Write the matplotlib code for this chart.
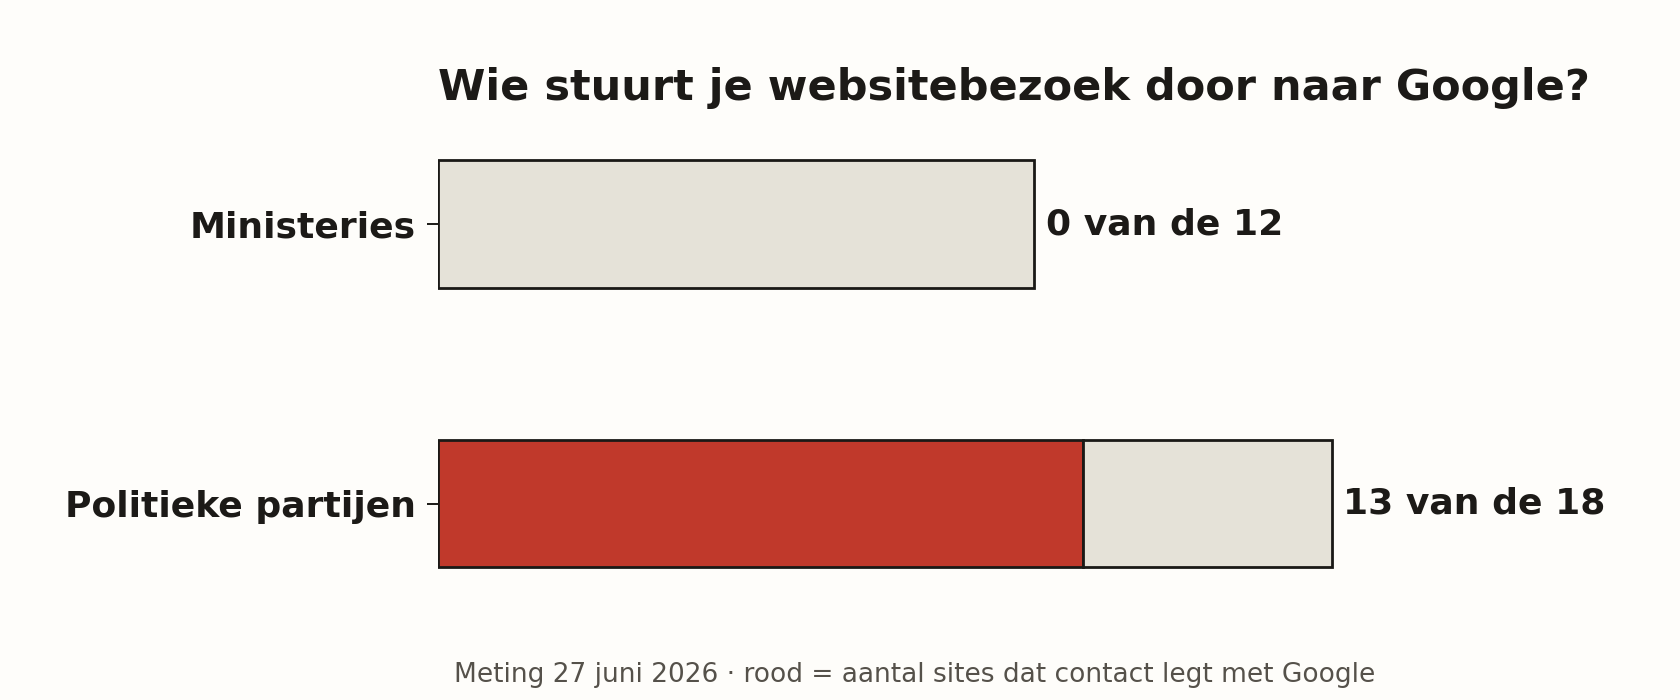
import matplotlib
matplotlib.use("Agg")
import matplotlib.pyplot as plt

categories = ["Ministeries", "Politieke partijen"]
google = [0, 13]
totals = [12, 18]
value_labels = ["0 van de 12", "13 van de 18"]
title = "Wie stuurt je websitebezoek door naar Google?"
footer = "Meting 27 juni 2026 · rood = aantal sites dat contact legt met Google"

BG = "#FEFDFA"
RED = "#C0392B"
GREY = "#E5E2D8"
EDGE = "#1A1916"
TEXT = "#1C1A17"
FOOT = "#55514A"

W, H = 1680, 700
fig = plt.figure(figsize=(W / 100, H / 100), dpi=100, facecolor=BG)
plt.rcParams['font.family'] = ['DejaVu Sans']

px_per_unit = 49.64
left_px = 438
xmax = 22.5
ax_w = xmax * px_per_unit
row_px = 279.5
ylo, yhi = -0.4, 1.4
ax_h = (yhi - ylo) * row_px
top_px = 224 - 0.4 * row_px
ax = fig.add_axes([left_px / W, (H - top_px - ax_h) / H, ax_w / W, ax_h / H])
ax.set_facecolor(BG)

ypos = list(range(len(categories)))
rest = [t - g for t, g in zip(totals, google)]
bar_h = 0.455
ax.barh(ypos, google, height=bar_h, color=RED, edgecolor=EDGE, linewidth=2.0)
ax.barh(ypos, rest, left=google, height=bar_h, color=GREY, edgecolor=EDGE, linewidth=2.0)

for y, t, lab in zip(ypos, totals, value_labels):
    ax.text(t + 0.24, y, lab, va="center", ha="left", fontsize=26,
            fontweight="bold", color=TEXT)

ax.set_xlim(0, xmax)
ax.set_ylim(yhi, ylo)
ax.set_yticks(ypos)
ax.set_yticklabels(categories, fontsize=26, fontweight="bold", color=TEXT)
ax.tick_params(axis="y", length=8, width=1.4, color=EDGE, pad=8)
ax.set_xticks([])
for s in ax.spines.values():
    s.set_visible(False)

fig.text(left_px / W, (H - 100) / H, title, ha="left", va="baseline",
         fontsize=31, fontweight="bold", color=TEXT)
fig.text(914.5 / W, (H - 682) / H, footer, ha="center", va="baseline",
         fontsize=19, color=FOOT)

fig.savefig("out.png", dpi=100, facecolor=BG)
